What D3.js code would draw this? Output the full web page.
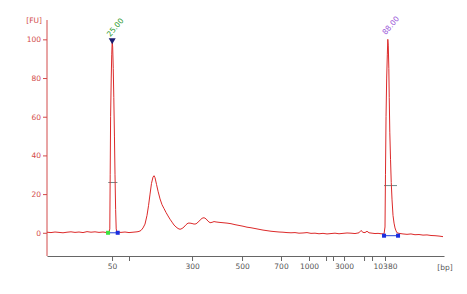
<!DOCTYPE html>
<html>
<head>
<meta charset="utf-8">
<script src="https://cdn.jsdelivr.net/npm/d3@7"></script>
<style>
  body { margin: 0; background: #fff; }
  text { font-family: "DejaVu Sans", sans-serif; font-size: 7.5px; }
</style>
</head>
<body>
<svg width="467" height="294"></svg>
<script>
// migration time (s) and fluorescence (FU) of the trace
var times = [20,20.5,21,21.5,22,22.5,23,23.5,24,24.5,25,25.5,26,26.5,27,27.5,
  27.63,27.75,27.85,27.9,27.95,28.03,28.09,28.15,28.21,28.28,28.35,28.43,28.5,28.58,28.65,28.75,
  29.25,29.75,30.25,30.75,31.25,31.5,31.75,32,32.25,32.5,32.69,32.88,33.06,33.25,33.38,33.5,33.69,33.88,
  34.13,34.38,34.63,34.88,35.13,35.38,35.63,35.88,36.13,36.38,36.63,36.88,37.13,37.38,37.63,37.88,
  38.13,38.38,38.63,38.88,39.13,39.38,39.63,39.88,40.13,40.38,40.63,40.88,41.13,41.5,42,42.5,43,43.5,
  44,44.5,45,45.5,46,46.5,47,47.5,48,48.5,49,49.5,50,50.5,51,51.5,52,52.5,53,53.5,54,54.5,55,55.5,
  56,56.5,57,57.5,58,58.5,59,59.25,59.5,59.75,60,60.25,60.63,61,61.38,61.75,62.13,
  62.25,62.31,62.38,62.46,62.54,62.6,62.66,62.73,62.78,62.85,62.94,63.03,63.13,63.25,63.38,63.5,63.63,63.75,
  64,64.5,65,65.5,66,66.5,67,67.5,68,68.5,69,69.5];
var fu = [0.3,0.1,0.4,0.2,0,0.3,0.5,0.2,0.4,0.1,0.6,0.3,0.5,0.2,0.4,0.1,
  0.1,0.2,2,30,60,80,92,99,96,85,70,50,30,12,2,0.3,
  0.2,0.4,0.1,0.3,0.5,0.7,1.2,2.5,4.5,9,14,20,25.5,28.8,29.5,28.5,25,21.5,
  17.5,14.5,12.5,10.5,8.7,7,5.5,4,3,2.2,1.8,2.2,3,4.2,5,5,
  4.8,4.5,4.6,5.5,6.5,7.5,7.8,7.2,6,5.2,5.4,5.8,5.6,5.4,5.2,5,4.7,4.2,
  3.8,3.4,2.9,2.6,2.2,1.8,1.4,1.1,0.8,0.6,0.4,0.3,0.1,0,0.1,-0.2,-0.1,0.1,-0.3,-0.2,-0.5,-0.3,-0.6,-0.4,
  -0.2,-0.5,-0.3,-0.1,-0.2,-0.4,0,1.2,0.2,0.1,0.8,0,-0.2,-0.4,-0.3,-0.5,-0.6,
  3,30,60,80,92,100,97,85,70,52,38,26,17,9,5,2.5,1,0,
  -0.3,-0.6,-0.8,-0.6,-1,-0.9,-1.2,-1.1,-1.4,-1.5,-1.7,-2];

// ladder positions on the x axis
var tickTimes = [28.13,30.25,38.13,44.38,49.25,52.75,54.88,55.75,57.13,59.63,60.63,62.25];
var tickLabels = ["50","","300","500","700","1000","","","3000","","","10380"];
var fuTicks = [0,20,40,60,80,100];

// markers
var peakTimes = [28.15, 62.6];
var peakFU = [99, 100];
var peakLabels = ["25.00", "88.00"];
var peakColors = ["#2e9a2e", "#9a55d8"];
var peakStart = [27.63, 62.13];
var peakEnd = [28.84, 63.88];
var peakBase = [0, -1.5];
var halfLevel = [26, 24.4];
var halfStart = [27.66, 62.13];
var halfEnd = [28.8, 63.75];

var svg = d3.select("svg");
var x = d3.scaleLinear().domain([20, 69.625]).range([47, 444]);
var y = d3.scaleLinear().domain([-12, 110]).range([256, 20]);

// y axis (red)
var yAxis = svg.append("g")
  .attr("transform", "translate(47,0)")
  .call(d3.axisLeft(y).tickValues(fuTicks).tickSize(4).tickPadding(2));
yAxis.select(".domain").attr("stroke", "#d24a4a").attr("d", "M0," + y(110) + "V" + y(-12));
yAxis.selectAll(".tick line").attr("stroke", "#d24a4a");
yAxis.selectAll(".tick text").attr("fill", "#d24a4a");

svg.append("text").attr("x", 42).attr("y", 23).attr("text-anchor", "end")
  .attr("fill", "#d24a4a").text("[FU]");

// x axis (grey)
var xAxis = svg.append("g")
  .attr("transform", "translate(0,256)")
  .call(d3.axisBottom(x).tickValues(tickTimes).tickFormat(function(d, i){ return tickLabels[i]; })
    .tickSize(5).tickSizeOuter(0).tickPadding(3));
xAxis.select(".domain").attr("stroke", "#666");
xAxis.selectAll(".tick line").attr("stroke", "#666");
xAxis.selectAll(".tick text").attr("fill", "#555");

svg.append("text").attr("x", 445).attr("y", 270).attr("text-anchor", "middle")
  .attr("fill", "#555").text("[bp]");

// half-height marks
svg.selectAll(".half").data(halfLevel).enter().append("line")
  .attr("x1", function(d, i){ return x(halfStart[i]); })
  .attr("x2", function(d, i){ return x(halfEnd[i]); })
  .attr("y1", function(d){ return y(d); })
  .attr("y2", function(d){ return y(d); })
  .attr("stroke", "#6f8a8a").attr("stroke-width", 1);

// trace
var line = d3.line()
  .x(function(d){ return x(d[0]); })
  .y(function(d){ return y(d[1]); });
svg.append("path")
  .datum(d3.zip(times, fu))
  .attr("fill", "none")
  .attr("stroke", "#dc2a2a")
  .attr("stroke-width", 1)
  .attr("d", line);

// peak baselines
svg.selectAll(".base").data(peakBase).enter().append("line")
  .attr("x1", function(d, i){ return x(peakStart[i]); })
  .attr("x2", function(d, i){ return x(peakEnd[i]); })
  .attr("y1", function(d){ return y(d); })
  .attr("y2", function(d){ return y(d); })
  .attr("stroke", "#1f3fd8").attr("stroke-width", 1);

svg.selectAll(".startdot").data(peakBase).enter().append("rect")
  .attr("x", function(d, i){ return x(peakStart[i]) - 2; })
  .attr("y", function(d){ return y(d) - 2; })
  .attr("width", 4).attr("height", 4)
  .attr("fill", function(d, i){ return i == 0 ? "#3ee23e" : "#1a2ee0"; });
svg.selectAll(".enddot").data(peakBase).enter().append("rect")
  .attr("x", function(d, i){ return x(peakEnd[i]) - 2; })
  .attr("y", function(d){ return y(d) - 2; })
  .attr("width", 4).attr("height", 4)
  .attr("fill", "#1a2ee0");

// triangle on lower marker
svg.append("path")
  .attr("d", "M" + (x(peakTimes[0]) - 3.5) + "," + (y(peakFU[0]) - 3) +
             "h7l-3.5,6z")
  .attr("fill", "#1c1c70");

// peak labels
svg.selectAll(".plabel").data(peakLabels).enter().append("text")
  .attr("transform", function(d, i){
    return "translate(" + (x(peakTimes[i]) - 2) + "," + (y(peakFU[i]) - 4) + ") rotate(-50)";
  })
  .attr("fill", function(d, i){ return peakColors[i]; })
  .text(function(d){ return d; });
</script>
</body>
</html>
